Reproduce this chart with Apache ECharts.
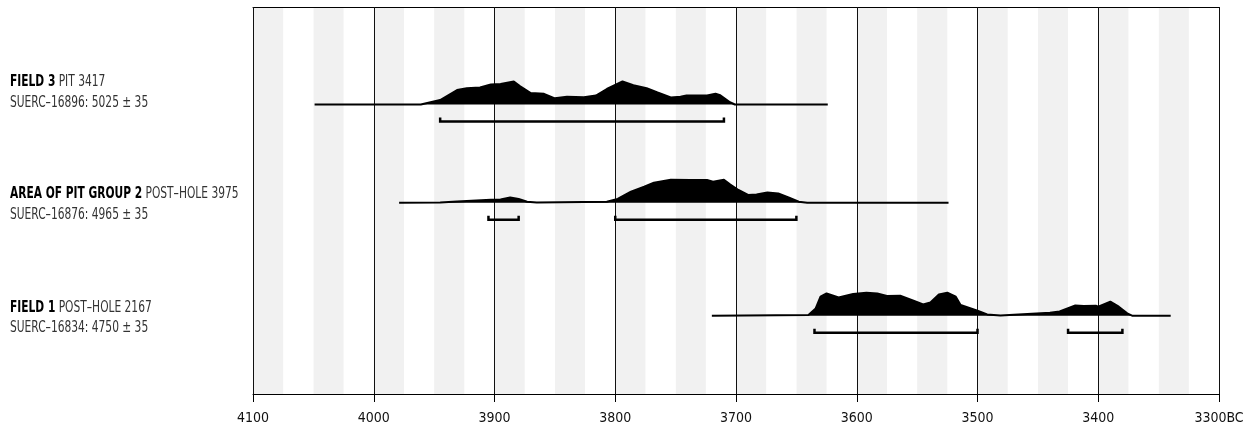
<!DOCTYPE html>
<html>
<head>
<meta charset="utf-8">
<script src="https://cdn.jsdelivr.net/npm/echarts@6/dist/echarts.min.js"></script>
<style>
html, body { margin: 0; padding: 0; background: #fff; }
#main { width: 1254px; height: 432px; }
</style>
</head>
<body>
<div id="main"></div>
<script>
// calibrated date distributions, cal BC (year, relative probability)
var field3Years = [4049, 3961, 3945, 3931, 3923, 3912, 3903, 3895, 3884, 3879, 3870, 3859, 3850, 3840, 3826, 3816, 3807, 3794, 3785, 3774, 3765, 3754, 3746, 3741, 3724, 3717, 3713, 3705, 3701, 3624];
var field3Prob = [0, 0, 4.5, 14.5, 16.3, 17, 20, 20.5, 23, 18.5, 11.5, 10.7, 6.2, 7.8, 7.2, 9, 15.5, 23, 19.3, 16.3, 12, 7, 7.7, 9, 9, 10.7, 9.3, 2.3, 0, 0];
var field3Ranges = [[3945, 3710]];

var pit2Years = [3979, 3945, 3931, 3903, 3895, 3887, 3880, 3873, 3865, 3807, 3798, 3787, 3776, 3768, 3754, 3738, 3724, 3719, 3710, 3705, 3698, 3690, 3683, 3674, 3665, 3656, 3648, 3641, 3524];
var pit2Prob = [0, 0.3, 1.3, 3, 3.3, 5.3, 3.7, 1, 0.3, 1, 3.7, 11, 16, 20, 23, 22.7, 22.7, 21, 23, 18.3, 12.7, 7.7, 8.3, 10.3, 9.3, 5, 1, 0, 0];
var pit2Ranges = [[3905, 3880], [3800, 3650]];

var field1Years = [3720, 3640, 3634, 3630, 3625, 3615, 3603, 3592, 3583, 3575, 3564, 3553, 3545, 3539, 3532, 3525, 3518, 3514, 3500, 3492, 3481, 3440, 3432, 3419, 3412, 3402, 3400, 3390, 3383, 3376, 3372, 3340];
var field1Prob = [0, 0.7, 7.3, 19, 22.3, 18.3, 21.7, 23, 22.3, 19.7, 20, 15, 11.3, 13.3, 21.3, 23, 19, 10.7, 5, 1.3, 0.3, 3, 4.3, 10.3, 9.7, 10, 9, 14, 9, 2.3, 0, 0];
var field1Ranges = [[3635, 3500], [3425, 3380]];

var rowTitles = ['FIELD 3', 'AREA OF PIT GROUP 2', 'FIELD 1'];
var rowSubtitles = ['PIT 3417', 'POST–HOLE 3975', 'POST–HOLE 2167'];
var rowLabs = ['SUERC–16896: 5025 ± 35', 'SUERC–16876: 4965 ± 35', 'SUERC–16834: 4750 ± 35'];

var axisMin = 3300, axisMax = 4100;

// layout: baseline of each row in y units (px above the x axis)
var rowBase = [289.5, 191.3, 78.3];
var rangeDrop = 17;
var labelY = [[82, 103], [194, 215], [308, 328]];

var FONT = "'DejaVu Sans Condensed', 'DejaVu Sans', sans-serif";
var SQUEEZE = 0.79; // the original uses a condensed face

var rows = [
  { years: field3Years, prob: field3Prob, ranges: field3Ranges },
  { years: pit2Years, prob: pit2Prob, ranges: pit2Ranges },
  { years: field1Years, prob: field1Prob, ranges: field1Ranges }
];

var series = [];
var bracketData = [];
rows.forEach(function (r, i) {
  series.push({
    type: 'line',
    data: r.years.map(function (y, k) { return [y, rowBase[i] + r.prob[k]]; }),
    symbol: 'none',
    silent: true,
    lineStyle: { color: '#000', width: 2 },
    areaStyle: { color: '#000', opacity: 1, origin: rowBase[i] },
    z: 3
  });
  r.ranges.forEach(function (g) {
    bracketData.push([g[0], g[1], rowBase[i] - rangeDrop]);
  });
});

series.push({
  type: 'custom',
  data: bracketData,
  encode: { x: [0, 1], y: 2 },
  silent: true,
  z: 4,
  renderItem: function (params, api) {
    var a = api.coord([api.value(0), api.value(2)]);
    var b = api.coord([api.value(1), api.value(2)]);
    return {
      type: 'polyline',
      shape: { points: [[a[0], a[1] - 4], [a[0], a[1]], [b[0], b[1]], [b[0], b[1] - 4]] },
      style: { stroke: '#000', lineWidth: 2.5, fill: null }
    };
  }
});

var graphics = [];
for (var i = 0; i < 3; i++) {
  graphics.push({
    type: 'text', x: 10, y: labelY[i][0], scaleX: SQUEEZE,
    style: {
      text: '{b|' + rowTitles[i] + '} ' + rowSubtitles[i],
      fill: '#333', font: '15px ' + FONT, verticalAlign: 'middle',
      rich: { b: { fontWeight: 'bold', fontSize: 15, fontFamily: FONT, fill: '#000' } }
    }
  });
  graphics.push({
    type: 'text', x: 10, y: labelY[i][1], scaleX: SQUEEZE,
    style: { text: rowLabs[i], fill: '#333', font: '15px ' + FONT, verticalAlign: 'middle' }
  });
}

var chart = echarts.init(document.getElementById('main'));
chart.setOption({
  animation: false,
  backgroundColor: '#fff',
  grid: { left: 253, right: 35, top: 7, bottom: 38 },
  xAxis: [{
    type: 'value',
    min: axisMin,
    max: axisMax,
    interval: 100,
    inverse: true,
    position: 'bottom',
    axisLine: { lineStyle: { color: '#000', width: 1 } },
    axisTick: { length: 8, lineStyle: { color: '#000' } },
    axisLabel: {
      margin: 17,
      color: '#111',
      fontSize: 14,
      fontFamily: FONT,
      formatter: function (v) { return v === axisMin ? v + 'BC' : String(v); }
    },
    splitLine: { show: true, lineStyle: { color: '#111', width: 1 } }
  }, {
    type: 'value',
    min: axisMin,
    max: axisMax,
    interval: 25,
    inverse: true,
    position: 'top',
    z: -1,
    axisLine: { lineStyle: { color: '#000', width: 1 } },
    axisTick: { show: false },
    axisLabel: { show: false },
    splitLine: { show: false },
    splitArea: { show: true, areaStyle: { color: ['#fff', '#f1f1f1'] } }
  }],
  yAxis: { type: 'value', min: 0, max: 387, show: false },
  graphic: graphics,
  series: series
});
</script>
</body>
</html>
